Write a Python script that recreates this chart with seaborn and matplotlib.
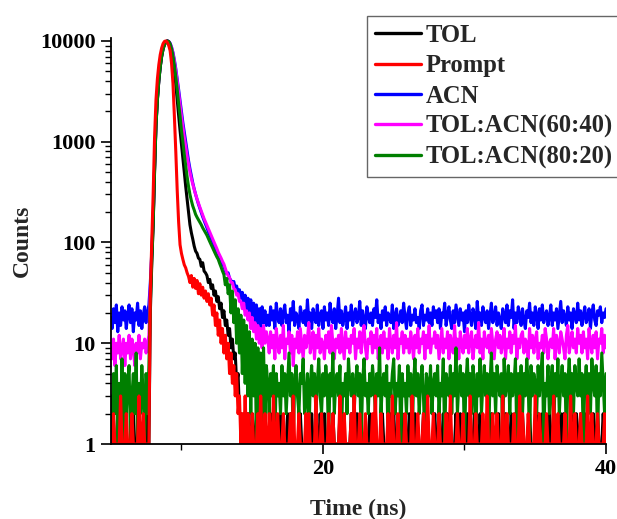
import numpy as np
import pandas as pd
import matplotlib
matplotlib.use("Agg")
import matplotlib.pyplot as plt
from matplotlib.lines import Line2D
from matplotlib.ticker import FixedLocator, FixedFormatter, LogLocator, NullFormatter
import seaborn as sns

# TCSPC channel times (ns), 0.1 ns bins from 5 to 40 ns
time_ns = np.linspace(5.0, 40.0, 351)

# ---- background before the excitation pulse, 5.0 - 7.7 ns ----
tol_pre = [1, 2, 1, 1, 1, 2, 1, 1, 1, 1, 2, 1, 1, 1, 1, 1, 2, 1, 1, 1, 2, 1, 1, 1, 1, 2, 1, 1]
prompt_pre = [1, 1, 2, 1, 1, 1, 1, 3, 1, 1, 1, 2, 1, 1, 1, 2, 1, 1, 1, 1, 3, 1, 1, 2, 1, 1, 1, 1]
acn_pre = [18, 14, 22, 16, 24, 13, 20, 15, 23, 17, 21, 14, 19, 24, 16, 22, 13, 20, 17, 25,
           15, 21, 14, 19, 23, 16, 20, 24]
mix64_pre = [9, 7, 11, 6, 10, 8, 12, 7, 9, 11, 6, 10, 8, 12, 7, 11, 9, 6, 10, 8,
             12, 7, 10, 9, 11, 8, 10, 12]
mix82_pre = [3, 1, 5, 2, 6, 1, 4, 2, 7, 1, 5, 2, 4, 6, 1, 3, 5, 2, 8, 1,
             4, 2, 6, 3, 1, 5, 2, 6]

# ---- rise, peak and decay, 7.8 - 16.0 ns ----
tol_decay = [20, 60, 150, 500, 1450, 2600, 4000, 5500, 7000, 8300,
             9200, 9750, 10000, 9850, 9200, 8000, 6600, 5100, 3700, 2600,
             1800, 1300, 950, 680, 500, 360, 270, 200, 150, 125,
             108, 92, 82, 78, 70, 68, 58, 63, 52, 50,
             47, 40, 43, 35, 38, 30, 33, 26, 29, 22,
             25, 18, 21, 15, 17, 12, 14, 9, 11, 7,
             8, 4, 5, 2, 2, 1, 2, 1, 1, 2,
             1, 1, 2, 1, 1, 2, 1, 1, 1, 2,
             1, 2, 1]
prompt_decay = [30, 100, 300, 1100, 2600, 4200, 5800, 7300, 8500, 9400,
                9900, 10000, 9700, 9000, 8000, 6000, 3800, 1800, 800, 330,
                160, 95, 78, 68, 60, 56, 50, 46, 40, 47,
                36, 44, 35, 42, 31, 39, 30, 36, 28, 33,
                26, 31, 24, 28, 19, 24, 15, 20, 12, 17,
                10, 14, 8, 12, 7, 10, 5, 8, 4, 6,
                3, 5, 2, 3, 1, 2, 1, 3, 1, 2,
                1, 1, 2, 1, 1, 1, 2, 1, 3, 1,
                1, 2, 1]
acn_decay = [40, 80, 170, 560, 1500, 2700, 4100, 5600, 7100, 8400,
             9300, 9800, 10000, 9900, 9500, 8700, 7700, 6500, 5300, 4200,
             3300, 2550, 2000, 1550, 1250, 1000, 800, 650, 540, 460,
             390, 340, 300, 268, 240, 218, 198, 180, 165, 152,
             140, 128, 118, 110, 102, 94, 86, 81, 76, 70,
             64, 61, 58, 52, 49, 50, 44, 42, 39, 41,
             35, 37, 31, 34, 28, 32, 25, 30, 22, 28,
             20, 27, 18, 25, 16, 24, 15, 22, 14, 23,
             16, 21, 15]
mix64_decay = [35, 75, 160, 540, 1480, 2650, 4050, 5550, 7050, 8350,
               9300, 9800, 10000, 9850, 9400, 8600, 7500, 6300, 5100, 4000,
               3050, 2350, 1800, 1400, 1100, 900, 720, 600, 500, 430,
               380, 335, 300, 270, 245, 224, 205, 188, 172, 160,
               148, 137, 126, 117, 108, 101, 94, 87, 80, 75,
               70, 65, 61, 55, 50, 47, 45, 40, 40, 35,
               34, 30, 31, 26, 26, 22, 25, 19, 21, 17,
               20, 14, 18, 13, 16, 11, 15, 10, 14, 9,
               15, 10, 13]
mix82_decay = [25, 65, 150, 520, 1450, 2600, 4000, 5500, 7000, 8300,
               9200, 9750, 10000, 9850, 9300, 8300, 7100, 5700, 4400, 3300,
               2400, 1800, 1300, 1000, 750, 580, 450, 360, 300, 260,
               230, 210, 190, 178, 168, 158, 150, 140, 132, 125,
               118, 110, 102, 95, 88, 82, 77, 72, 68, 62,
               57, 52, 48, 38, 44, 31, 38, 20, 33, 16,
               27, 10, 22, 8, 19, 5, 17, 4, 15, 3,
               13, 2, 11, 3, 10, 1, 9, 2, 8, 1,
               9, 2, 6]

# ---- background after the decay, 16.1 - 40.0 ns ----
tol_tail = [1, 1, 2, 1, 2, 1, 1, 1, 1, 2, 1, 1, 1, 1, 2, 1, 2, 1, 1, 1,
            1, 1, 1, 2, 1, 1, 1, 1, 1, 2, 1, 2, 1, 1, 1, 1, 1, 2, 1, 1,
            2, 1, 1, 1, 1, 1, 2, 1, 1, 1, 1, 2, 1, 2, 1, 1, 1, 1, 1, 2,
            1, 1, 1, 2, 1, 2, 1, 1, 1, 1, 1, 1, 2, 1, 1, 1, 2, 1, 1, 1,
            1, 2, 1, 1, 1, 1, 1, 2, 1, 2, 1, 1, 1, 1, 1, 2, 1, 1, 1, 1,
            2, 1, 1, 1, 2, 1, 1, 1, 1, 1, 2, 1, 2, 1, 1, 1, 1, 1, 2, 1,
            1, 1, 1, 1, 2, 1, 1, 2, 1, 1, 1, 1, 1, 2, 1, 1, 2, 1, 1, 1,
            1, 2, 1, 1, 1, 1, 2, 1, 1, 1, 2, 1, 1, 1, 1, 1, 2, 1, 2, 1,
            1, 1, 1, 2, 1, 1, 1, 1, 2, 1, 1, 1, 2, 1, 1, 2, 1, 1, 1, 1,
            2, 1, 1, 1, 1, 2, 1, 1, 1, 1, 1, 2, 1, 1, 2, 1, 1, 1, 1, 2,
            1, 1, 2, 1, 1, 1, 1, 2, 1, 2, 1, 1, 1, 1, 1, 2, 1, 1, 2, 1,
            1, 2, 1, 1, 1, 2, 1, 1, 1, 1, 2, 1, 1, 2, 1, 1, 1, 2, 1, 1]
prompt_tail = [1, 2, 1, 1, 3, 1, 1, 2, 1, 1, 1, 2, 1, 1, 1, 1, 2, 1, 3, 1,
               1, 1, 2, 1, 1, 1, 1, 2, 1, 2, 1, 1, 1, 1, 3, 1, 1, 1, 2, 1,
               1, 1, 1, 2, 1, 1, 2, 1, 1, 1, 1, 3, 1, 1, 2, 1, 1, 1, 1, 2,
               1, 3, 1, 1, 1, 2, 1, 1, 1, 2, 1, 1, 1, 1, 2, 1, 3, 1, 1, 1,
               2, 1, 1, 1, 1, 2, 1, 1, 3, 1, 1, 1, 2, 1, 1, 1, 1, 2, 1, 1,
               1, 1, 3, 1, 1, 1, 2, 1, 1, 1, 2, 1, 1, 3, 1, 1, 1, 2, 1, 1,
               1, 2, 1, 1, 1, 1, 2, 1, 1, 3, 1, 1, 1, 1, 2, 1, 1, 1, 2, 1,
               1, 1, 1, 3, 1, 1, 1, 2, 1, 1, 1, 1, 2, 1, 1, 3, 1, 1, 1, 2,
               1, 1, 2, 1, 1, 1, 3, 1, 1, 2, 1, 1, 1, 1, 2, 1, 1, 1, 3, 1,
               2, 1, 1, 1, 2, 1, 1, 1, 1, 3, 1, 1, 2, 1, 1, 1, 1, 2, 1, 1,
               1, 1, 3, 1, 1, 2, 1, 1, 1, 1, 2, 1, 1, 1, 3, 1, 1, 2, 1, 1,
               1, 2, 1, 1, 1, 1, 3, 1, 1, 2, 1, 1, 1, 2, 1, 1, 1, 1, 2, 1]
acn_tail = [19, 15, 23, 17, 21, 14, 25, 18, 16, 22, 15, 20, 24, 16, 19, 13, 22, 17, 26, 15,
            20, 18, 14, 23, 19, 16, 21, 15, 27, 17, 20, 14, 22, 18, 16, 24, 15, 19, 21, 14,
            23, 17, 20, 15, 25, 18, 16, 22, 14, 19, 28, 16, 21, 15, 18, 23, 14, 20, 17, 24,
            15, 19, 22, 16, 18, 26, 15, 21, 17, 14, 23, 19, 16, 20, 15, 22, 18, 27, 16, 19,
            14, 21, 17, 23, 15, 20, 18, 16, 24, 14, 19, 22, 15, 17, 21, 16, 25, 18, 14, 20,
            23, 15, 19, 17, 22, 16, 18, 14, 21, 24, 15, 19, 17, 22, 16, 20, 15, 23, 18, 21,
            16, 22, 14, 20, 18, 25, 15, 19, 23, 17, 14, 21, 16, 24, 19, 15, 22, 17, 20, 13,
            21, 16, 24, 18, 15, 22, 19, 14, 26, 17, 20, 15, 23, 18, 16, 21, 14, 19, 25, 16,
            18, 23, 15, 20, 17, 14, 22, 19, 16, 24, 15, 21, 18, 27, 14, 20, 16, 23, 19, 15,
            22, 17, 14, 21, 18, 25, 16, 20, 15, 23, 19, 14, 22, 17, 24, 16, 19, 21, 15, 18,
            24, 15, 20, 17, 22, 14, 19, 26, 16, 21, 18, 15, 23, 17, 20, 14, 22, 19, 16, 25,
            17, 21, 15, 19, 23, 16, 18, 22, 14, 20, 24, 17, 15, 21, 19, 23, 16, 20, 18, 22]
mix64_tail = [11, 8, 13, 9, 12, 7, 14, 10, 8, 12, 9, 15, 7, 11, 10, 13, 8, 12, 6, 11,
              9, 13, 8, 14, 10, 7, 12, 9, 11, 16, 8, 10, 13, 7, 12, 9, 14, 8, 11, 10,
              7, 12, 9, 13, 8, 15, 10, 7, 11, 9, 12, 8, 14, 10, 7, 13, 9, 11, 8, 12,
              10, 14, 7, 11, 9, 13, 8, 12, 15, 9, 7, 11, 10, 13, 8, 12, 9, 14, 7, 10,
              12, 8, 13, 9, 11, 7, 14, 10, 8, 12, 9, 16, 7, 11, 10, 13, 8, 12, 9, 11,
              8, 13, 10, 7, 12, 9, 14, 8, 11, 10, 13, 7, 12, 9, 15, 8, 11, 10, 13, 9,
              12, 7, 10, 14, 8, 11, 9, 13, 7, 12, 10, 8, 15, 9, 11, 7, 13, 10, 8, 12,
              9, 14, 8, 11, 13, 7, 10, 12, 9, 16, 8, 11, 7, 13, 10, 9, 12, 8, 14, 10,
              7, 11, 13, 9, 12, 8, 10, 14, 7, 11, 9, 13, 8, 12, 10, 15, 7, 11, 9, 12,
              13, 8, 11, 10, 7, 14, 9, 12, 8, 11, 13, 7, 10, 9, 12, 8, 14, 11, 7, 10,
              11, 9, 14, 7, 12, 10, 8, 13, 11, 9, 7, 12, 15, 8, 10, 13, 9, 11, 8, 14,
              10, 12, 8, 13, 9, 11, 7, 14, 10, 8, 12, 9, 13, 7, 11, 10, 14, 8, 12, 9]
mix82_tail = [4, 2, 5, 3, 6, 1, 5, 3, 4, 2, 6, 3, 5, 2, 4, 8, 3, 5, 1, 4,
              6, 3, 2, 5, 4, 7, 2, 3, 5, 1, 4, 6, 3, 5, 2, 4, 7, 3, 2, 5,
              3, 6, 4, 1, 5, 3, 8, 2, 4, 5, 3, 6, 1, 4, 3, 5, 2, 7, 4, 3,
              5, 2, 4, 6, 3, 5, 1, 4, 7, 3, 4, 2, 5, 3, 6, 4, 2, 5, 3, 9,
              2, 4, 5, 3, 6, 1, 4, 3, 5, 7, 2, 4, 3, 6, 1, 5, 3, 4, 2, 6,
              3, 5, 1, 4, 7, 3, 5, 2, 4, 6, 3, 1, 5, 4, 3, 6, 2, 4, 5, 3,
              6, 2, 4, 3, 7, 1, 5, 4, 3, 6, 2, 5, 3, 9, 2, 4, 6, 3, 5, 1,
              4, 7, 3, 5, 2, 6, 4, 1, 5, 3, 7, 2, 4, 6, 3, 5, 1, 4, 8, 3,
              5, 2, 6, 4, 3, 5, 1, 7, 3, 4, 6, 2, 5, 3, 4, 7, 1, 5, 3, 6,
              2, 5, 3, 7, 4, 1, 6, 3, 5, 4, 2, 6, 3, 5, 8, 1, 4, 3, 6, 2,
              4, 6, 1, 5, 3, 7, 2, 4, 6, 3, 5, 1, 4, 7, 3, 5, 2, 6, 4, 3,
              7, 3, 5, 1, 4, 6, 3, 5, 2, 7, 4, 3, 6, 1, 5, 3, 8, 4, 2, 5]

labels = ["TOL", "Prompt", "ACN", "TOL:ACN(60:40)", "TOL:ACN(80:20)"]
colors = ["#000000", "#FF0000", "#0000FF", "#FF00FF", "#007F00"]
counts = [tol_pre + tol_decay + tol_tail,
          prompt_pre + prompt_decay + prompt_tail,
          acn_pre + acn_decay + acn_tail,
          mix64_pre + mix64_decay + mix64_tail,
          mix82_pre + mix82_decay + mix82_tail]
for c in counts:
    assert len(c) == len(time_ns), len(c)

# stacking order of the traces (last one on top)
draw_order = ["ACN", "TOL:ACN(60:40)", "TOL", "TOL:ACN(80:20)", "Prompt"]

df = pd.concat(
    [pd.DataFrame({"time": time_ns, "counts": c, "sample": lab})
     for lab, c in zip(labels, counts)],
    ignore_index=True,
)

sns.set_theme(style="ticks")
plt.rcParams["font.family"] = ["Liberation Serif", "DejaVu Serif"]
plt.rcParams["font.weight"] = "bold"
plt.rcParams["axes.labelweight"] = "bold"

fig = plt.figure(figsize=(6.17, 5.19), dpi=100)
ax = fig.add_axes([0.1794, 0.1445, 0.8028, 0.7823])

sns.lineplot(data=df, x="time", y="counts", hue="sample",
             hue_order=draw_order, palette=dict(zip(labels, colors)),
             estimator=None, errorbar=None, sort=False, lw=2.2,
             legend=False, ax=ax)

ax.set_yscale("log")
ax.set_xlim(5, 40)
ax.set_ylim(1, 10700)

ax.yaxis.set_major_locator(FixedLocator([1, 10, 100, 1000, 10000]))
ax.yaxis.set_major_formatter(FixedFormatter(["1", "10", "100", "1000", "10000"]))
ax.yaxis.set_minor_locator(LogLocator(base=10, subs=np.arange(2, 10)))
ax.yaxis.set_minor_formatter(NullFormatter())
ax.xaxis.set_major_locator(FixedLocator([20, 40]))
ax.xaxis.set_minor_locator(FixedLocator([10, 30]))

ax.tick_params(axis="both", which="major", direction="out", length=7,
               width=1.2, labelsize=16, pad=4, colors="black")
ax.tick_params(axis="both", which="minor", direction="out", length=4,
               width=1.0, colors="black")
for lab in ax.get_xticklabels() + ax.get_yticklabels():
    lab.set_fontweight("bold")

sns.despine(ax=ax)
for side in ("left", "bottom"):
    ax.spines[side].set_linewidth(1.3)
    ax.spines[side].set_color("black")

ax.set_xlabel("Time (ns)", fontsize=17, fontweight="bold", labelpad=14)
ax.set_ylabel("Counts", fontsize=17, fontweight="bold", labelpad=5)

handles = [Line2D([], [], color=c, lw=2.4) for c in colors]
leg = ax.legend(handles, labels, loc="upper left",
                bbox_to_anchor=(367 / 617, 1 - 16 / 519),
                bbox_transform=fig.transFigure, borderaxespad=0,
                prop={"family": "Liberation Serif", "weight": "bold", "size": 17.7},
                handlelength=1.87, handletextpad=0.2, labelspacing=0.3,
                borderpad=0.32, frameon=True, fancybox=False, framealpha=1)
leg.get_frame().set_edgecolor("#666666")
leg.get_frame().set_linewidth(1.0)

fig.savefig("out.png", dpi=100)
